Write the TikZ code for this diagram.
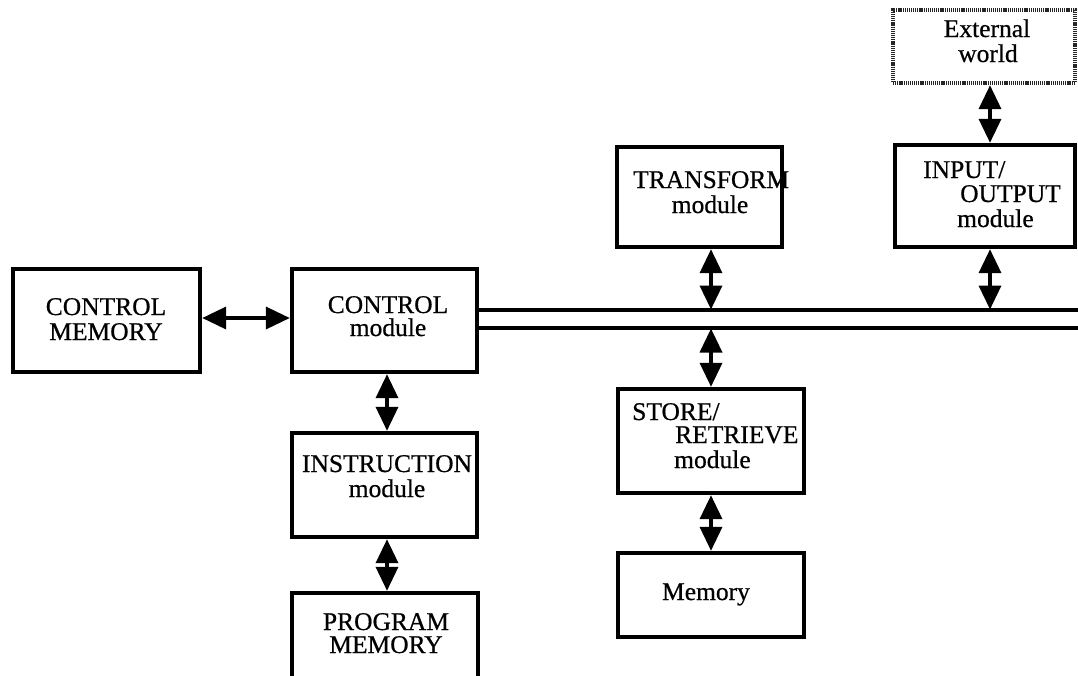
\documentclass[tikz,border=0pt]{standalone}
\usepackage{fontspec}
\setmainfont{Liberation Serif}
\newfontfamily\labelfont{Liberation Serif}[FakeBold=0.6]
\usetikzlibrary{arrows.meta}

\tikzset{
  box/.style={draw, line width=3.4pt, rectangle, inner sep=0pt, fill=white},
  worldbox/.style={draw=black!85, line width=3.4pt, dash pattern=on 1.2pt off 0.9pt, rectangle, inner sep=0pt},
  txt/.style={inner sep=0pt, font=\labelfont\fontsize{25.5}{25.5}\selectfont},
  link/.style={line width=3.6pt, {Triangle[length=24pt,width=22pt]}-{Triangle[length=24pt,width=22pt]}, shorten <=0.5pt, shorten >=0.5pt},
  bus/.style={line width=3.4pt}
}

% rectangle from its pixel corners (x1,y1) to (x2,y2)
\newcommand{\boxat}[6][box]{%
  \node[#1, minimum width={(#5-#3)*1pt}, minimum height={(#6-#4)*1pt}]
    (#2) at ({(#3+#5)/2},{(#4+#6)/2}) {};}

\begin{document}
\begin{tikzpicture}[x=1pt, y=-1pt]
\useasboundingbox (0,0) rectangle (1078,675);
\clip (0,0) rectangle (1078,675);

% bus
\coordinate (busT) at (1078,310);
\coordinate (busB) at (1078,328);

% boxes
\boxat{cm}{13}{269}{200}{372}
\boxat{ctl}{292}{269}{477}{372}
\boxat{ins}{292}{433}{477}{537}
\boxat{pm}{292}{593}{478}{720}
\boxat{tr}{617}{147}{782}{247}
\boxat{st}{618}{389}{804}{493}
\boxat{mem}{618}{553}{804}{637}
\boxat{io}{895}{145}{1075}{247}
\boxat[worldbox]{ext}{893}{10}{1075}{83}

\draw[bus] (ctl.east |- busT) -- (busT);
\draw[bus] (ctl.east |- busB) -- (busB);

% labels
\node[txt, anchor=base] (cm1) at (106,315) {CONTROL};
\node[txt, anchor=base] (cm2) at (106,340) {MEMORY};
\node[txt, anchor=base] (ctl1) at (388,313) {CONTROL};
\node[txt, anchor=base] (ctl2) at (388,336) {module};
\node[txt, anchor=base] (ins1) at (387,472) {INSTRUCTION};
\node[txt, anchor=base] (ins2) at (387,497) {module};
\node[txt, anchor=base] (pm1) at (386,630) {PROGRAM};
\node[txt, anchor=base] (pm2) at (386,653) {MEMORY};
\node[txt, anchor=base west] (tr1) at (633,188) {TRANSFORM};
\node[txt, anchor=base] (tr2) at (710,213) {module};
\node[txt, anchor=base west] (st1) at (632,420) {STORE/};
\node[txt, anchor=base west] (st2) at (675,443) {RETRIEVE};
\node[txt, anchor=base west] (st3) at (674,468) {module};
\node[txt, anchor=base] (mem1) at (706,600) {Memory};
\node[txt, anchor=base west] (io1) at (923,178) {INPUT/};
\node[txt, anchor=base west] (io2) at (960,202) {OUTPUT};
\node[txt, anchor=base west] (io3) at (957,227) {module};
\node[txt, anchor=base] (ext1) at (987,37) {External};
\node[txt, anchor=base] (ext2) at (988,62) {world};

% connectors
\draw[link] (cm.east |- 0,318) -- (ctl.west |- 0,318);
\draw[link] (ctl.south -| 387,0) -- (ins.north -| 387,0);
\draw[link] (ins.south -| 387,0) -- (pm.north -| 387,0);
\draw[link] (tr.south -| st) -- (st |- busT);
\draw[link] (st |- busB) -- (st.north);
\draw[link] (st.south) -- (mem.north);
\draw[link] (io.south -| 990,0) -- (busT -| 990,0);
\draw[link] (ext.south -| 990,0) -- (io.north -| 990,0);
\end{tikzpicture}
\end{document}
